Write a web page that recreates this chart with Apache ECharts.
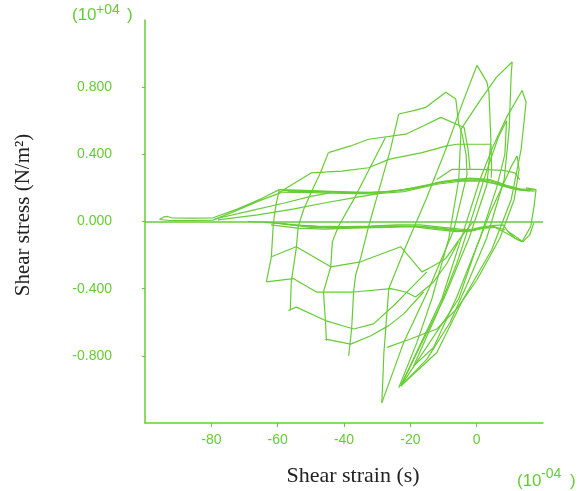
<!DOCTYPE html>
<html>
<head>
<meta charset="utf-8">
<script src="https://cdn.jsdelivr.net/npm/echarts@6/dist/echarts.min.js"></script>
<style>
  html, body { margin: 0; padding: 0; background: #ffffff; }
  #chart { width: 583px; height: 491px; }
</style>
</head>
<body>
<div id="chart"></div>
<script>
// Cyclic simple-shear test: shear stress (x1e4 N/m²) against shear strain (x1e-4).
const GREEN = '#66cc33';

const xTicks = [-80, -60, -40, -20, 0];
const yTicks = [-0.8, -0.4, 0, 0.4, 0.8];

// initial loading from rest and the first excursions
const tailLoop   = [[-95.6,0.012],[-94.5,0.026],[-93.2,0.03],[-92,0.022],[-86,0.02],[-79.5,0.022],[-72,0.075],[-65,0.135],[-59.5,0.19]];
const tailReturn = [[-59,0.172],[-66,0.12],[-73,0.06],[-79.5,0.008],[-86,0.006],[-92.5,0.006],[-95.6,0.012]];
const fanA       = [[-79,0.015],[-68,0.065],[-58,0.11],[-50,0.15],[-44,0.172]];
const fanB       = [[-78,0.01],[-66,0.04],[-55,0.075],[-46,0.11],[-36,0.145],[-30,0.165]];

// positive plateau traversed by most cycles
const upperBandA = [[-59.5,0.19],[-52,0.185],[-44,0.18],[-36,0.175],[-31.7,0.172],[-26,0.18],[-21.3,0.19],[-16,0.21],[-11.4,0.235],[-6,0.25],[-3.2,0.255],[0.5,0.252],[3.7,0.245],[7,0.225],[8.9,0.21],[12,0.195],[14.9,0.185],[17.9,0.19]];
const upperBandB = [[-59,0.175],[-50,0.172],[-40,0.168],[-31,0.165],[-22,0.178],[-12,0.222],[-4,0.242],[2,0.24],[6,0.222],[10,0.2],[14,0.185],[17.5,0.18]];
const upperBandC = [[-58.5,0.185],[-48,0.18],[-38,0.172],[-28,0.175],[-18,0.2],[-10,0.238],[-2,0.258],[4,0.25],[9,0.215],[13,0.195],[16.5,0.19]];
const upperBandD = [[-57,0.18],[-45,0.176],[-34,0.17],[-24,0.182],[-14,0.222],[-6,0.245],[1,0.248],[7,0.22],[12,0.19],[16,0.182]];
const upperBandTop = [[-12,0.25],[-7.5,0.31],[1,0.31],[8,0.305],[11.5,0.29],[13,0.25]];

// negative plateau just below zero stress
const lowerBandA = [[-69,0.0],[-62,-0.006],[-56,-0.02],[-48,-0.028],[-40,-0.03],[-32,-0.028],[-24,-0.02],[-17,-0.02],[-10,-0.035],[-5,-0.045],[-2,-0.05],[1,-0.035],[4.5,-0.025],[8,-0.02],[9.5,-0.06],[12.5,-0.1],[13.7,-0.12]];
const lowerBandB = [[-64,-0.005],[-58,-0.015],[-50,-0.035],[-42,-0.04],[-34,-0.035],[-26,-0.03],[-18,-0.028],[-11,-0.04],[-4,-0.055],[0,-0.045],[5,-0.03],[8.5,-0.05]];
const lowerBandC = [[-62,-0.02],[-54,-0.04],[-46,-0.045],[-38,-0.04],[-28,-0.035],[-19,-0.03],[-12,-0.048],[-6,-0.06],[-1,-0.055],[3,-0.03]];
const lowerBandD = [[-60,-0.01],[-52,-0.026],[-44,-0.036],[-36,-0.034],[-27,-0.025],[-16,-0.032],[-8,-0.05],[-3,-0.06],[2,-0.04],[6,-0.035]];
const lowerDip   = [[5,-0.03],[9,-0.07],[12.5,-0.11],[14,-0.12],[16,-0.08],[17.2,-0.01]];
const rightLoop  = [[14.9,0.2],[17.9,0.19],[17.3,0.09],[16.3,-0.03],[13.7,-0.12],[11.5,-0.1],[9.5,-0.06]];

// positive peak contours
const peakRunA = [[-44.7,0.41],[-38,0.45],[-32.6,0.49],[-21.4,0.52],[-16,0.57],[-10.8,0.62],[-3.8,0.56],[-2.6,0.43],[-2,0.31]];
const peakRunB = [[-23.5,0.64],[-19,0.66],[-15.3,0.68],[-9.3,0.77],[-6.3,0.73],[-5.4,0.58],[-4.4,0.52]];
const peakRunC = [[-59.8,0.17],[-49.8,0.29],[-45,0.295],[-40.7,0.30],[-32.6,0.32],[-26.5,0.37],[-16.5,0.41],[-9,0.45],[-6,0.46],[-2,0.46],[4.3,0.46],[4.5,0.33],[4.4,0.26]];

// negative trough contours
const troughRunA = [[-61.9,-0.21],[-54.4,-0.15],[-44,-0.27],[-35,-0.24],[-22.9,-0.15],[-16.5,-0.30],[-13.5,-0.27],[-9.3,-0.22],[-5,-0.1],[-1,0.0]];
const troughRunB = [[-63.4,-0.36],[-55.3,-0.34],[-48.3,-0.42],[-37.1,-0.42],[-25.9,-0.40],[-21.4,-0.42],[-18.4,-0.45],[-13,-0.36],[-9,-0.25],[-5.5,-0.12]];
const troughRunC = [[-56.8,-0.53],[-54.4,-0.51],[-45.6,-0.59],[-37.1,-0.64],[-31.1,-0.61],[-25,-0.5],[-20,-0.4],[-15,-0.3]];
const troughRunD = [[-45.6,-0.70],[-38,-0.73],[-31.9,-0.68],[-26.5,-0.62],[-22,-0.55],[-16,-0.42]];

// loading branches, trough to peak
const load1 = [[-63.4,-0.36],[-61.9,-0.21],[-61.3,-0.01],[-60.5,0.1],[-59.5,0.19]];
const load2 = [[-56.2,-0.53],[-55.9,-0.36],[-54.4,-0.16],[-53.8,-0.03],[-52.2,0.07],[-49.5,0.19],[-47.1,0.29],[-44.7,0.41]];
const load3 = [[-45.3,-0.71],[-45.6,-0.59],[-46.2,-0.42],[-44,-0.27],[-43.5,-0.12],[-41.7,-0.03],[-37.1,0.13],[-31.9,0.33],[-27.5,0.5]];
const load4 = [[-38.6,-0.80],[-37.7,-0.64],[-37.1,-0.42],[-36.5,-0.32],[-35,-0.22],[-32.6,-0.03],[-29,0.22],[-26,0.43],[-23.5,0.64]];
const load5 = [[-28.6,-1.08],[-28.2,-0.9],[-28,-0.79],[-26.5,-0.40],[-21.4,-0.15],[-15.3,0.13],[-9.3,0.43],[-4,0.72],[0.1,0.93]];
const load6 = [[-23.5,-0.99],[-18,-0.72],[-13.5,-0.46],[-8.4,-0.1],[-5.4,0.25],[-4.7,0.55],[1,0.72],[6,0.86],[10.7,0.95]];
const load7 = [[-22.9,-0.98],[-10.5,-0.46],[-4,-0.06],[1,0.25],[5,0.45],[9,0.62],[13.7,0.78]];
const load8 = [[-22.9,-0.98],[-5.4,-0.46],[0,-0.15],[4,0.05],[8,0.22],[10.5,0.33],[12.2,0.39]];
const load9 = [[-19,-0.86],[-12,-0.55],[-6,-0.25],[-1,0.05],[3,0.3],[6.5,0.5],[9,0.6]];

// unloading branches, peak to trough
const unload4 = [[-4.4,0.52],[-3.2,0.4],[-2.9,0.28],[-6.9,-0.05],[-14.4,-0.40],[-22,-0.72],[-28.6,-1.08]];
const unload5 = [[0.1,0.93],[3.1,0.83],[3.7,0.77],[4.3,0.48],[3.1,0.22],[-2.3,-0.10],[-9.9,-0.46],[-17.5,-0.76],[-22.9,-0.98]];
const unload6 = [[10.7,0.95],[10.4,0.87],[9.8,0.55],[8.3,0.25],[3,-0.1],[-3,-0.38],[-8,-0.6],[-15,-0.82],[-22.9,-0.98]];
const unload7 = [[13.7,0.78],[14.9,0.71],[13.4,0.43],[10.4,0.13],[4.5,-0.17],[-4,-0.46],[-12,-0.78],[-22.9,-0.98]];
const unload8 = [[12.2,0.39],[12.8,0.31],[11.3,0.13],[7,-0.1],[0,-0.35],[-6,-0.52],[-12,-0.64],[-20,-0.7],[-27,-0.75]];
const unload9 = [[9,0.6],[8.5,0.4],[6,0.2],[1,-0.1],[-6,-0.45],[-13,-0.75],[-19,-0.86]];

const paths = [
  tailLoop, tailReturn, fanA, fanB,
  upperBandA, upperBandB, upperBandC, upperBandD, upperBandTop,
  lowerBandA, lowerBandB, lowerBandC, lowerBandD, lowerDip, rightLoop,
  peakRunA, peakRunB, peakRunC,
  troughRunA, troughRunB, troughRunC, troughRunD,
  load1, load2, load3, load4, load5, load6, load7, load8, load9,
  unload4, unload5, unload6, unload7, unload8, unload9
];

const series = paths.map((pts, i) => ({
  type: 'line',
  data: pts,
  showSymbol: false,
  silent: true,
  lineStyle: { color: GREEN, width: 1.2 },
  markLine: i === 0 ? {
    silent: true,
    symbol: 'none',
    label: { show: false },
    lineStyle: { color: GREEN, width: 1.5, type: 'solid' },
    data: [{ yAxis: 0 }]
  } : undefined
}));

const chart = echarts.init(document.getElementById('chart'), null, { renderer: 'canvas' });
chart.setOption({
  animation: false,
  grid: { left: 145, right: 40, top: 20, bottom: 68 },
  xAxis: {
    type: 'value', min: -100, max: 20, interval: 20,
    axisLine: { show: true, onZero: false, lineStyle: { color: GREEN, width: 1.5 } },
    axisTick: { show: true, customValues: xTicks, length: 4, lineStyle: { color: GREEN } },
    axisLabel: { customValues: xTicks, color: GREEN, fontSize: 14, fontFamily: 'Liberation Sans', margin: 10 },
    splitLine: { show: false }
  },
  yAxis: {
    type: 'value', min: -1.2, max: 1.2, interval: 0.4,
    axisLine: { show: true, onZero: false, lineStyle: { color: GREEN, width: 1.5 } },
    axisTick: { show: true, customValues: yTicks, length: 3, lineStyle: { color: GREEN } },
    axisLabel: {
      customValues: yTicks, color: GREEN, fontSize: 14, fontFamily: 'Liberation Sans', margin: 33,
      formatter: v => v.toFixed(3)
    },
    splitLine: { show: false }
  },
  graphic: [
    { type: 'text', x: 23, y: 215, rotation: Math.PI / 2,
      style: { text: 'Shear stress (N/m²)', font: '21px "Liberation Serif"', fill: '#222', align: 'center', verticalAlign: 'middle' } },
    { type: 'text', x: 353, y: 476,
      style: { text: 'Shear strain (s)', font: '22px "Liberation Serif"', fill: '#222', align: 'center', verticalAlign: 'middle' } },
    { type: 'text', x: 72, y: 15, style: { text: '(10', font: '17px "Liberation Sans"', fill: GREEN, align: 'left', verticalAlign: 'middle' } },
    { type: 'text', x: 96, y: 10, style: { text: '+04', font: '14px "Liberation Sans"', fill: GREEN, align: 'left', verticalAlign: 'middle' } },
    { type: 'text', x: 127, y: 15, style: { text: ')', font: '17px "Liberation Sans"', fill: GREEN, align: 'left', verticalAlign: 'middle' } },
    { type: 'text', x: 517, y: 481, style: { text: '(10', font: '17px "Liberation Sans"', fill: GREEN, align: 'left', verticalAlign: 'middle' } },
    { type: 'text', x: 541, y: 474, style: { text: '-04', font: '14px "Liberation Sans"', fill: GREEN, align: 'left', verticalAlign: 'middle' } },
    { type: 'text', x: 570, y: 481, style: { text: ')', font: '17px "Liberation Sans"', fill: GREEN, align: 'left', verticalAlign: 'middle' } }
  ],
  series: series
});
</script>
</body>
</html>
